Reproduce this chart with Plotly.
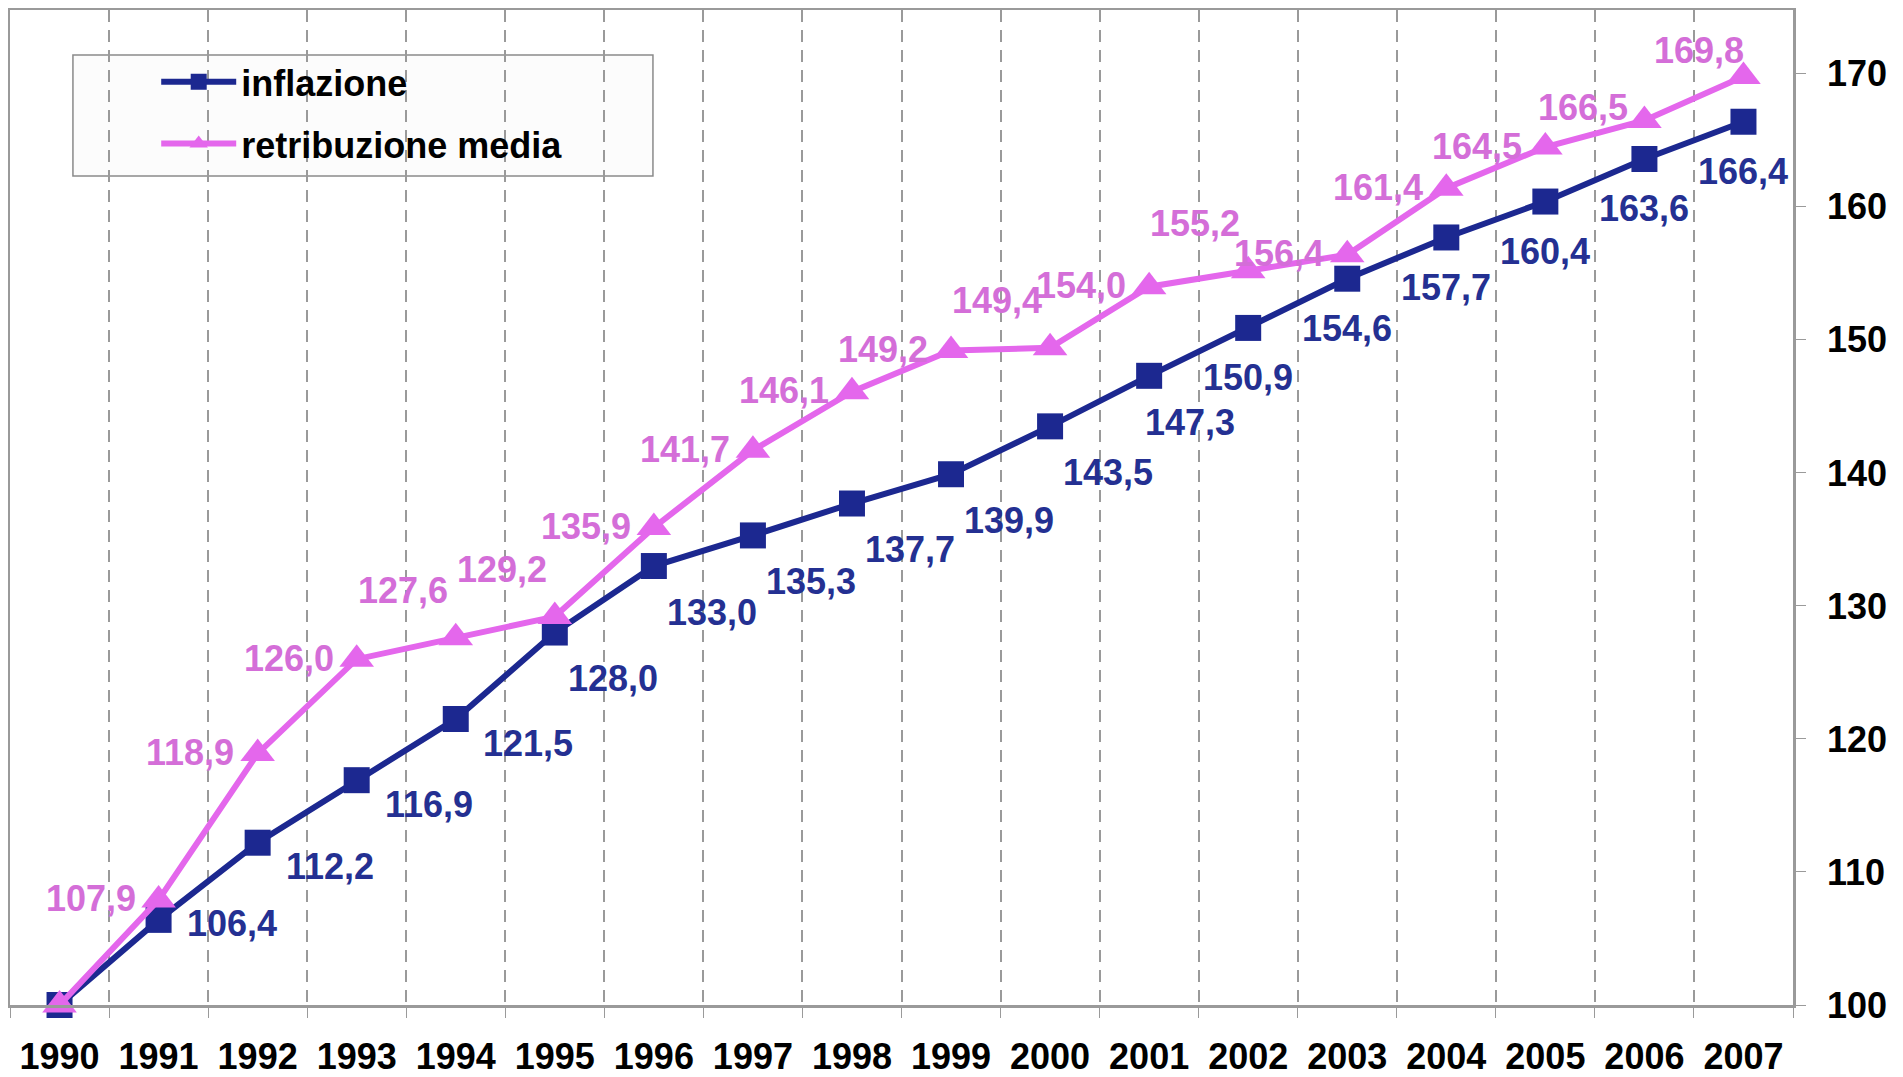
import plotly.graph_objects as go

years = list(range(1990, 2008))
inflazione = [100.0, 106.4, 112.2, 116.9, 121.5, 128.0, 133.0, 135.3, 137.7, 139.9,
              143.5, 147.3, 150.9, 154.6, 157.7, 160.4, 163.6, 166.4]
retribuzione = [100.0, 107.9, 118.9, 126.0, 127.6, 129.2, 135.9, 141.7, 146.1, 149.2,
                149.4, 154.0, 155.2, 156.4, 161.4, 164.5, 166.5, 169.8]
y_ticks = [100, 110, 120, 130, 140, 150, 160, 170]

def fmt(v):
    return f"{v:.1f}".replace(".", ",")

# label placement styles (pixel shifts of the label centre from the point)
INFL_SHIFT = {"r": (73, -4), "rb": (72, -24), "br": (58, -46), "bbr": (41, -47), "b": (0, -50)}
infl_place = [None, "r", "rb", "rb", "rb", "br", "br", "br", "br", "br", "br", "bbr",
              "b", "b", "b", "b", "b", "b"]
RETR_SHIFT = {"l": (-68, 1), "tl": (-53, 47), "lu": (-61, 13), "t": (-44, 26)}
retr_place = [None, "l", "l", "l", "tl", "tl", "l", "l", "l", "l", "tl", "l",
              "tl", "l", "l", "l", "lu", "t"]

BLUE = "#1C2890"
BLUE_TXT = "#243092"
PINK = "#E467EC"
PINK_TXT = "#D46ED8"
FONT = "Liberation Sans, Arial, sans-serif"

fig = go.Figure()
fig.add_trace(go.Scatter(
    x=years, y=inflazione, name="inflazione", legendgroup="a",
    mode="lines+markers",
    line=dict(color=BLUE, width=6),
    marker=dict(symbol="square", size=26, color=BLUE),
    cliponaxis=False,
))
fig.add_trace(go.Scatter(
    x=years, y=retribuzione, name="retribuzione media", legendgroup="b",
    mode="lines+markers",
    line=dict(color=PINK, width=6),
    marker=dict(symbol="triangle-up", size=30, color=PINK),
    cliponaxis=False,
))

for vals, places, shifts, col in ((inflazione, infl_place, INFL_SHIFT, BLUE_TXT),
                                  (retribuzione, retr_place, RETR_SHIFT, PINK_TXT)):
    for yr, v, place in zip(years, vals, places):
        if place is None:
            continue
        dx, dy = shifts[place]
        fig.add_annotation(x=yr, y=v, text=fmt(v), showarrow=False,
                           xanchor="center", yanchor="middle", xshift=dx, yshift=dy,
                           font=dict(family=FONT, size=36, color=col, weight="bold"))

# legend frame
fig.add_shape(type="rect", xref="paper", yref="paper",
              x0=0.0353, x1=0.3606, y0=0.8332, y1=0.9548,
              line=dict(color="#8a8a8a", width=1.5), fillcolor="#fcfcfc", layer="below")

fig.update_layout(
    width=1903, height=1077,
    margin=dict(l=2, r=118, t=2, b=80),
    paper_bgcolor="white", plot_bgcolor="white",
    font=dict(family=FONT, color="black"),
    showlegend=True,
    legend=dict(x=0.082, y=0.958, xanchor="left", yanchor="top",
                bgcolor="rgba(0,0,0,0)", borderwidth=0,
                font=dict(family=FONT, size=36, color="black", weight="bold"),
                itemwidth=75, traceorder="grouped", tracegroupgap=12),
    xaxis=dict(
        range=[1989.5, 2007.5], tickmode="array", tickvals=years,
        ticktext=[str(y) for y in years], ticks="", showgrid=False,
        tickfont=dict(family=FONT, size=36, color="black", weight="bold"),
        ticklabelstandoff=18, automargin=False,
        showline=True, linecolor="#9a9a9a", linewidth=2.5, mirror=True,
        zeroline=False,
        minor=dict(tick0=1989.5, dtick=1, showgrid=True, gridcolor="#9a9a9a",
                   gridwidth=1.5, griddash="12px,8px", ticks="outside", ticklen=10,
                   tickcolor="#9a9a9a"),
    ),
    yaxis=dict(
        side="right", range=[100, 174.8], tickmode="array", tickvals=y_ticks,
        showgrid=False, zeroline=False, ticks="outside", ticklen=10, tickcolor="#9a9a9a",
        tickfont=dict(family=FONT, size=36, color="black", weight="bold"),
        ticklabelstandoff=14, automargin=False,
        showline=True, linecolor="#9a9a9a", linewidth=2.5, mirror=True,
    ),
)

fig.write_html("out.html")
